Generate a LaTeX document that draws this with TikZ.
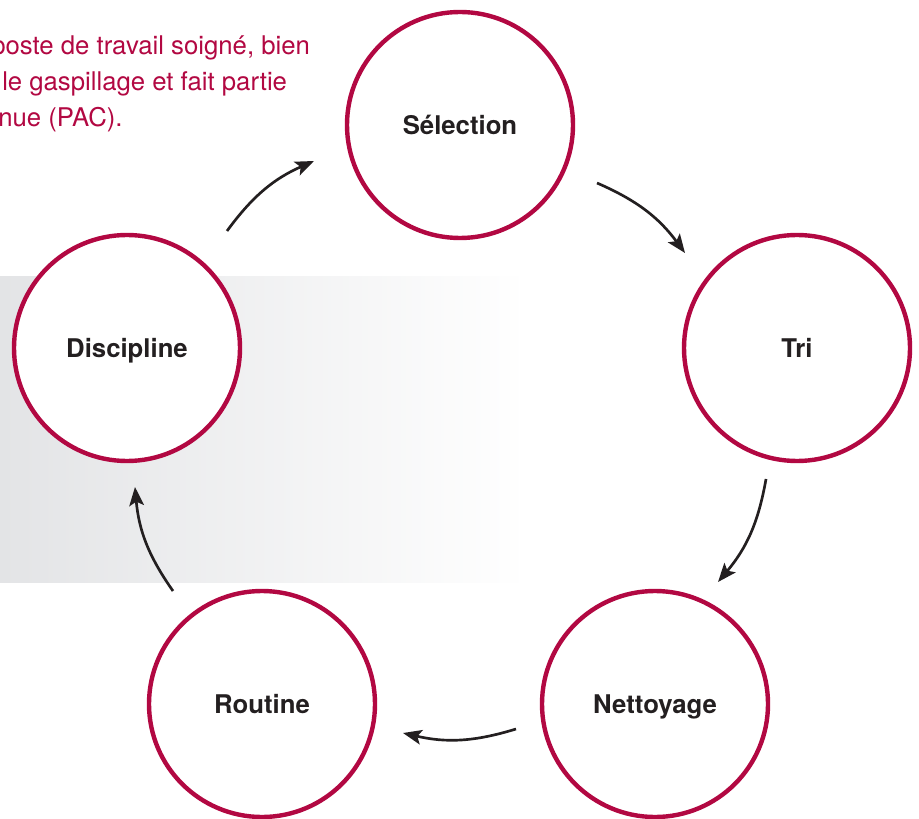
\documentclass[tikz,border=0pt]{standalone}
\usepackage{fontspec}
\setmainfont{TeX Gyre Heros}
\usetikzlibrary{arrows.meta}
\definecolor{crimson}{RGB}{178,8,66}
\definecolor{inkgray}{RGB}{35,31,32}
\definecolor{shadegray}{RGB}{227,228,230}
\begin{document}
\begin{tikzpicture}[x=.75pt,y=.75pt,
	stage/.style={draw=crimson,line width=3.3pt,fill=white,shape=circle,minimum size=169.5pt,inner sep=0pt,
		text=inkgray,font=\fontsize{19.3}{22}\selectfont\bfseries,text height=13.86pt,text depth=0pt},
	cyclearrow/.style={-{Stealth[length=14pt,width=11pt,inset=3pt]},line width=2pt,draw=inkgray,bend left=15},
	note/.style={anchor=base west,inner sep=0pt,text=crimson,font=\fontsize{19.3}{27}\selectfont}]
	\useasboundingbox (0,0) rectangle (919,818);
	\shade[left color=shadegray,right color=white] (0,236) rectangle (528,541);
	
	\node[note] (NA) at (-9,763) {poste de travail soigné, bien};
	\node[note] (NB) at (2,727) {le gaspillage et fait partie};
	\node[note] (NC) at (-2,691) {nue (PAC).};
	
	\node[stage] (SA) at (460,693) {Sélection};
	\node[stage] (SB) at (797,470) {Tri};
	\node[stage] (SC) at (655,114) {Nettoyage};
	\node[stage] (SD) at (262,114) {Routine};
	\node[stage] (SE) at (127,470) {Discipline};
	
	\coordinate (EA) at (227,587);
	\coordinate (EB) at (314,657);
	\coordinate (EC) at (597,635);
	\coordinate (ED) at (685,565);
	\coordinate (EE) at (766,339);
	\coordinate (EF) at (718,236);
	\coordinate (EG) at (516,89);
	\coordinate (EH) at (403,85);
	\coordinate (EI) at (173,227);
	\coordinate (EJ) at (135,331);
	
	\draw[cyclearrow] (EA) to (EB);
	\draw[cyclearrow] (EC) to (ED);
	\draw[cyclearrow] (EE) to (EF);
	\draw[cyclearrow] (EG) to (EH);
	\draw[cyclearrow] (EI) to (EJ);
\end{tikzpicture}
\end{document}
